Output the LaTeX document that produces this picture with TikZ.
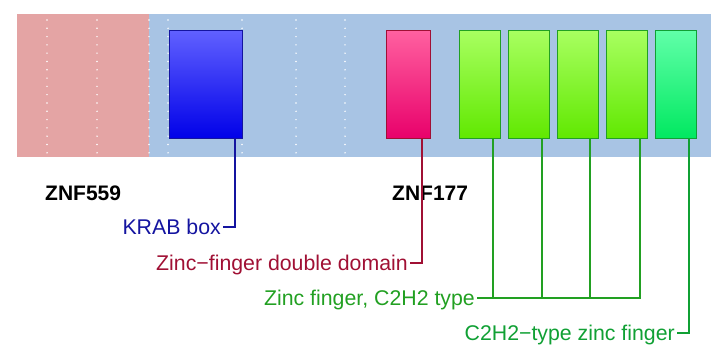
\documentclass[tikz,border=0pt]{standalone}
\usepackage{fontspec}
\setmainfont{Liberation Sans}
\definecolor{bgpink}{HTML}{E4A4A4}
\definecolor{bgblue}{HTML}{A8C4E4}
\definecolor{krabtop}{HTML}{6060FF}
\definecolor{krabbot}{HTML}{0000E8}
\definecolor{krabline}{HTML}{1414A0}
\definecolor{zfdtop}{HTML}{FF60A0}
\definecolor{zfdbot}{HTML}{E8006A}
\definecolor{zfdline}{HTML}{A01034}
\definecolor{zftop}{HTML}{A8FF60}
\definecolor{zfbot}{HTML}{60E800}
\definecolor{zfline}{HTML}{22A022}
\definecolor{cztop}{HTML}{60FFA8}
\definecolor{czbot}{HTML}{00E860}
\definecolor{czline}{HTML}{10A034}
\tikzset{
  x=1pt, y=1pt,
  dom/.style={rectangle, anchor=north west, minimum width=#1, minimum height=108pt, inner sep=0pt, outer sep=0pt, line width=1pt},
  lab/.style={anchor=east, inner sep=2pt, text height=15pt, text depth=0pt, font=\fontsize{21.3}{25}\selectfont},
  title/.style={anchor=base west, inner sep=0pt, font=\fontsize{21}{25}\selectfont\bfseries},
  conn/.style={line width=1.3pt},
}
\begin{document}
\begin{tikzpicture}
\useasboundingbox (0,0) rectangle (719,-358);
% background
\fill[bgpink] (17,-14) rectangle (149,-157);
\fill[bgblue] (149,-14) rectangle (711,-157);
% dotted guides
\foreach \x in {47,97,149,168,242,296,345}
  \foreach \i in {0,...,16}
    \fill[white] (\x,-20-\i*8.3) circle (0.8);
% domains
\node[dom=73pt, top color=krabtop, bottom color=krabbot, draw=krabline] (krab) at (169,-31) {};
\node[dom=44pt, top color=zfdtop, bottom color=zfdbot, draw=zfdline] (zfd) at (386,-31) {};
\node[dom=41pt, top color=zftop, bottom color=zfbot, draw=zfline] (zf1) at (459,-31) {};
\node[dom=41pt, top color=zftop, bottom color=zfbot, draw=zfline] (zf2) at (508,-31) {};
\node[dom=41pt, top color=zftop, bottom color=zfbot, draw=zfline] (zf3) at (557,-31) {};
\node[dom=41pt, top color=zftop, bottom color=zfbot, draw=zfline] (zf4) at (606,-31) {};
\node[dom=41pt, top color=cztop, bottom color=czbot, draw=czline] (cz) at (655,-31) {};
% titles
\node[title] (t559) at (45,-200) {ZNF559};
\node[title] (t177) at (392,-200.5) {ZNF177};
% labels
\node[lab, text=krabline] (lkrab) at (223,-227) {KRAB box};
\node[lab, text=zfdline] (lzfd) at (410,-263) {Zinc−finger double domain};
\node[lab, text=zfline] (lzf) at (477,-298) {Zinc finger, C2H2 type};
\node[lab, text=czline] (lcz) at (677,-333) {C2H2−type zinc finger};
% connectors
\draw[conn, krabline] (krab.south -| 235,0) |- (lkrab.east);
\draw[conn, zfdline] (zfd.south -| 422,0) |- (lzfd.east);
\draw[conn, zfline] (zf1.south -| 493,0) |- (lzf.east);
\draw[conn, zfline] (zf2.south -| 542,0) |- (lzf.east);
\draw[conn, zfline] (zf3.south -| 590,0) |- (lzf.east);
\draw[conn, zfline] (zf4.south -| 640,0) |- (lzf.east);
\draw[conn, czline] (cz.south -| 689,0) |- (lcz.east);
\end{tikzpicture}
\end{document}
